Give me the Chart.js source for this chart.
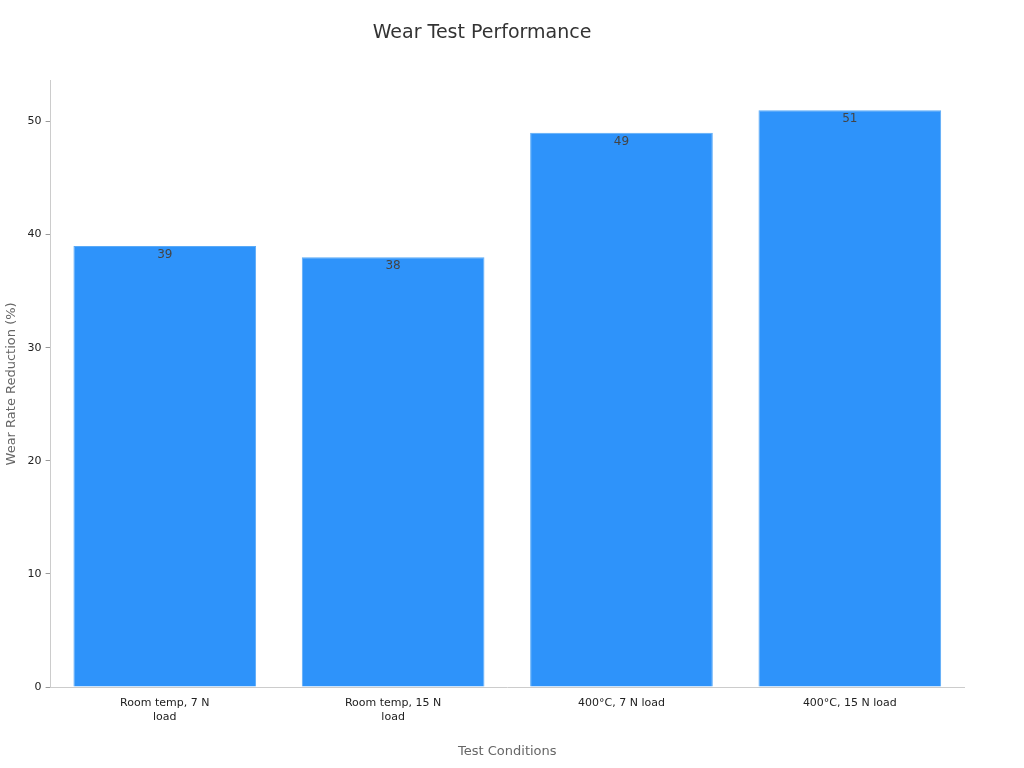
<!DOCTYPE html>
<html>
<head>
<meta charset="utf-8">
<script src="https://cdn.jsdelivr.net/npm/chart.js@4"></script>
<style>
  body { margin: 0; background: #fff; }
  #wrap { width: 1024px; height: 768px; }
</style>
</head>
<body>
<div id="wrap"><canvas id="myChart"></canvas></div>
<script>
var categories = [["Room temp, 7 N", "load"], ["Room temp, 15 N", "load"], "400°C, 7 N load", "400°C, 15 N load"];
var values = [39, 38, 49, 51];
var yTicks = [0, 10, 20, 30, 40, 50];

// draws the value just under the top of each bar
var valueLabels = {
  id: 'valueLabels',
  afterDatasetsDraw: function(chart) {
    var ctx = chart.ctx;
    var meta = chart.getDatasetMeta(0);
    ctx.save();
    ctx.font = '12px "DejaVu Sans"';
    ctx.fillStyle = '#444';
    ctx.textAlign = 'center';
    ctx.textBaseline = 'top';
    meta.data.forEach(function(bar, i) {
      ctx.fillText(values[i], bar.x, bar.y + 3);
    });
    ctx.restore();
  }
};

new Chart(document.getElementById('myChart'), {
  type: 'bar',
  data: {
    labels: categories,
    datasets: [{
      data: values,
      backgroundColor: '#2E93FA',
      borderColor: '#5aaaf7',
      borderWidth: 1,
      barPercentage: 0.8,
      categoryPercentage: 1
    }]
  },
  options: {
    responsive: true,
    maintainAspectRatio: false,
    animation: false,
    layout: { padding: { left: 0, right: 60, top: 10, bottom: 5 } },
    plugins: {
      legend: { display: false },
      tooltip: { enabled: false },
      title: {
        display: true,
        text: 'Wear Test Performance',
        color: '#333',
        font: { family: 'DejaVu Sans', size: 19, weight: 'normal' },
        padding: { top: 12, bottom: 36 }
      }
    },
    scales: {
      x: {
        grid: { display: false, drawTicks: false },
        border: { color: '#ccc' },
        ticks: { color: '#222', font: { family: 'DejaVu Sans', size: 11 }, maxRotation: 0, padding: 10 },
        title: { display: true, text: 'Test Conditions', color: '#666', font: { family: 'DejaVu Sans', size: 13 }, padding: { top: 10 } }
      },
      y: {
        min: 0,
        max: 53.6,
        afterBuildTicks: function(axis) { axis.ticks = yTicks.map(function(v) { return { value: v }; }); },
        grid: { display: true, drawOnChartArea: false, tickLength: 5, color: '#999' },
        border: { color: '#ccc' },
        ticks: { color: '#222', font: { family: 'DejaVu Sans', size: 11 }, padding: 4 },
        title: { display: true, text: 'Wear Rate Reduction (%)', color: '#666', font: { family: 'DejaVu Sans', size: 13 } }
      }
    }
  },
  plugins: [valueLabels]
});
</script>
</body>
</html>
